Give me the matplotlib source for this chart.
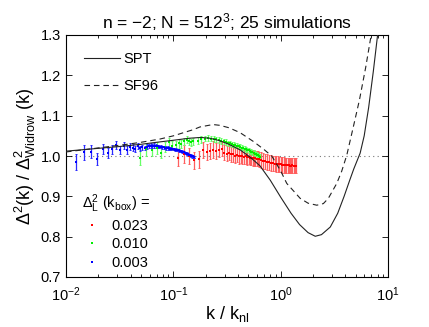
import matplotlib
matplotlib.use("Agg")
import matplotlib.pyplot as plt
from matplotlib.ticker import FixedLocator, FormatStrFormatter

plt.rcParams['font.family'] = ['Liberation Sans', 'DejaVu Sans']
plt.rcParams['mathtext.fontset'] = 'custom'
plt.rcParams['mathtext.rm'] = 'Liberation Sans'
plt.rcParams['mathtext.it'] = 'Liberation Sans:italic'
plt.rcParams['mathtext.bf'] = 'Liberation Sans:bold'
plt.rcParams['mathtext.default'] = 'rm'

# theory curves
spt_k = [0.01, 0.02, 0.03, 0.05, 0.07, 0.1, 0.14, 0.18, 0.22, 0.27, 0.33, 0.42, 0.52, 0.64,
         0.8, 1.0, 1.25, 1.5, 1.8, 2.1, 2.4, 2.9, 3.4, 3.9, 4.4, 4.8, 5.5, 6.0, 6.6, 7.3, 8.0, 8.5]
spt_v = [1.012, 1.019, 1.023, 1.029, 1.034, 1.039, 1.044, 1.046, 1.044, 1.038, 1.029, 1.015,
         0.997, 0.976, 0.940, 0.898, 0.858, 0.830, 0.810, 0.801, 0.805, 0.824, 0.858, 0.900,
         0.940, 0.968, 1.007, 1.050, 1.120, 1.210, 1.300, 1.370]

sf_k = [0.01, 0.02, 0.037, 0.05, 0.075, 0.1, 0.152, 0.177, 0.234, 0.272, 0.33, 0.418, 0.557,
        0.7, 0.826, 1.0, 1.14, 1.52, 1.8, 2.17, 2.5, 2.78, 3.33, 3.7, 4.13, 4.76, 5.42, 6.2,
        6.97, 7.5]
sf_v = [1.010, 1.020, 1.029, 1.034, 1.042, 1.050, 1.065, 1.072, 1.078, 1.076, 1.070, 1.058,
        1.036, 1.016, 1.000, 0.963, 0.932, 0.895, 0.883, 0.878, 0.882, 0.895, 0.932, 0.962,
        1.002, 1.073, 1.139, 1.220, 1.300, 1.360]

# simulations, Delta_L^2(k_box) = 0.023
red_k = [0.110, 0.126, 0.141, 0.157, 0.173, 0.188, 0.204, 0.220, 0.235, 0.251, 0.267, 0.283,
         0.298, 0.314, 0.330, 0.345, 0.361, 0.377, 0.392, 0.408, 0.424, 0.440, 0.455, 0.471,
         0.487, 0.502, 0.518, 0.534, 0.549, 0.565, 0.581, 0.596, 0.612, 0.628,
         0.659, 0.690, 0.722, 0.753, 0.785, 0.816, 0.848, 0.879, 0.910, 0.942, 0.973, 1.005,
         1.036, 1.068, 1.099, 1.130, 1.162, 1.193, 1.225, 1.256, 1.288, 1.319, 1.350, 1.382]
red_v = [0.996, 1.005, 1.000, 0.990, 0.992, 1.015, 1.010, 1.013, 1.016, 1.012, 1.016, 1.018,
         1.008, 1.006, 1.008, 1.004, 1.005, 1.001, 1.003, 1.000, 1.001, 0.999, 0.998, 0.999,
         0.997, 0.998, 0.996, 0.996, 0.995, 0.995, 0.994, 0.993, 0.993, 0.992,
         0.990, 0.988, 0.987, 0.985, 0.984, 0.983, 0.982, 0.981, 0.980, 0.980, 0.979, 0.979,
         0.978, 0.978, 0.977, 0.977, 0.977, 0.977, 0.976, 0.976, 0.977, 0.976, 0.976, 0.976]
red_e = [0.022, 0.022, 0.021, 0.021, 0.021, 0.020, 0.020, 0.020, 0.020, 0.020, 0.019, 0.019,
         0.019, 0.019, 0.019, 0.019, 0.019, 0.019, 0.019, 0.019, 0.019, 0.019, 0.019, 0.019,
         0.019, 0.019, 0.019, 0.019, 0.019, 0.019, 0.019, 0.019, 0.019, 0.019,
         0.019, 0.019, 0.019, 0.019, 0.019, 0.019, 0.019, 0.019, 0.019, 0.019, 0.019, 0.019,
         0.019, 0.019, 0.019, 0.019, 0.019, 0.019, 0.019, 0.019, 0.019, 0.019, 0.019, 0.019]

# Delta_L^2(k_box) = 0.010
green_k = [0.049, 0.056, 0.063, 0.070, 0.077, 0.084, 0.091, 0.098, 0.105, 0.112, 0.119, 0.126,
           0.133, 0.140, 0.147,
           0.154, 0.168, 0.182, 0.196, 0.210, 0.224, 0.238, 0.252, 0.266, 0.280, 0.294, 0.308,
           0.322, 0.336, 0.350, 0.364, 0.378, 0.392, 0.406, 0.420, 0.434, 0.448, 0.462, 0.476,
           0.490, 0.504, 0.518, 0.532, 0.546, 0.560, 0.574, 0.588, 0.602, 0.616, 0.630, 0.644]
green_v = [0.996, 1.017, 1.015, 1.020, 1.007, 1.022, 1.034, 1.026, 1.028, 1.031, 1.030, 1.036,
           1.040, 1.036, 1.034,
           1.036, 1.038, 1.041, 1.043, 1.044, 1.043, 1.042, 1.041, 1.039, 1.037, 1.036, 1.034,
           1.032, 1.031, 1.029, 1.028, 1.027, 1.025, 1.024, 1.023, 1.021, 1.020, 1.018, 1.017,
           1.015, 1.014, 1.012, 1.011, 1.009, 1.008, 1.006, 1.005, 1.003, 1.002, 1.000, 0.998]
green_e = [0.018, 0.016, 0.015, 0.014, 0.013, 0.012, 0.011, 0.011, 0.010, 0.010, 0.009, 0.009,
           0.009, 0.008, 0.008,
           0.008, 0.008, 0.008, 0.007, 0.007, 0.007, 0.007, 0.007, 0.007, 0.007, 0.007, 0.007,
           0.006, 0.006, 0.006, 0.006, 0.006, 0.006, 0.006, 0.006, 0.006, 0.006, 0.006, 0.006,
           0.006, 0.006, 0.006, 0.006, 0.006, 0.006, 0.006, 0.006, 0.006, 0.006, 0.006, 0.006]

# Delta_L^2(k_box) = 0.003
blue_k = [0.0123, 0.0147, 0.0172, 0.0196, 0.0221, 0.0246, 0.0270, 0.0295, 0.0320, 0.0344,
          0.0369, 0.0393, 0.0418, 0.0443, 0.0467, 0.0492, 0.0516, 0.0541, 0.0565, 0.0590,
          0.0615, 0.0639, 0.0664, 0.0688, 0.0713, 0.0738, 0.0762, 0.0787, 0.0811, 0.0836,
          0.0861, 0.0885, 0.0910, 0.0934, 0.0959, 0.0984, 0.1008, 0.1033, 0.1057, 0.1082,
          0.1107, 0.1131, 0.1156, 0.1180, 0.1205, 0.1230, 0.1254, 0.1279, 0.1303, 0.1328,
          0.1352, 0.1377, 0.1402, 0.1426, 0.1451, 0.1476, 0.1500, 0.1525, 0.1549, 0.1574]
blue_v = [0.986, 1.009, 1.011, 0.993, 1.017, 1.007, 1.017, 1.027, 1.016, 1.026,
          1.015, 1.023, 1.021, 1.018, 1.024, 1.019, 1.022, 1.020, 1.023, 1.025,
          1.026, 1.025, 1.026, 1.024, 1.024, 1.023, 1.023, 1.022, 1.022, 1.021,
          1.020, 1.020, 1.019, 1.018, 1.018, 1.017, 1.017, 1.016, 1.016, 1.015,
          1.015, 1.014, 1.013, 1.012, 1.011, 1.010, 1.009, 1.008, 1.007, 1.006,
          1.005, 1.004, 1.003, 1.002, 1.001, 1.000, 0.999, 0.999, 0.998, 0.997]
blue_e = [0.020, 0.019, 0.017, 0.015, 0.013, 0.012, 0.011, 0.010, 0.010, 0.009,
          0.009, 0.008, 0.008, 0.007, 0.007, 0.007, 0.006, 0.006, 0.006, 0.005,
          0.005, 0.005, 0.005, 0.005, 0.004, 0.004, 0.004, 0.004, 0.004, 0.004,
          0.004, 0.004, 0.004, 0.004, 0.004, 0.003, 0.003, 0.003, 0.003, 0.003,
          0.003, 0.003, 0.003, 0.003, 0.003, 0.003, 0.003, 0.003, 0.003, 0.003,
          0.003, 0.003, 0.003, 0.003, 0.003, 0.003, 0.003, 0.003, 0.003, 0.003]

fig = plt.figure(figsize=(4.29, 3.27), dpi=100)
ax = fig.add_axes([66 / 429, 1 - 277 / 327, 322 / 429, 242 / 327])

ax.axhline(1.0, color='#777777', ls=(0, (1, 3)), lw=0.8, zorder=1)

sims = [(red_k, red_v, red_e, '#ff0000', '#ff5e5e', '0.023'),
        (green_k, green_v, green_e, '#00ee00', '#66ff66', '0.010'),
        (blue_k, blue_v, blue_e, '#0000ff', '#2a2aff', '0.003')]
pts = []
for k, v, e, c, ec, lab in sims:
    ax.errorbar(k, v, yerr=e, fmt='none', ecolor=ec, elinewidth=0.9, capsize=1,
                capthick=0.7, zorder=2)
    p, = ax.plot(k, v, 's', ms=1.9, mew=0, color=c, label=lab, zorder=3)
    pts.append(p)

l1, = ax.plot(spt_k, spt_v, '-', color='#222222', lw=0.8, label='SPT', zorder=4)
l2, = ax.plot(sf_k, sf_v, '--', color='#222222', lw=0.8, dashes=(5, 3.5), label='SF96', zorder=4)

ax.set_xscale('log')
ax.set_xlim(0.01, 10)
ax.set_ylim(0.7, 1.3)
ax.yaxis.set_major_locator(FixedLocator([0.7, 0.8, 0.9, 1.0, 1.1, 1.2, 1.3]))
ax.yaxis.set_major_formatter(FormatStrFormatter('%.1f'))
ax.tick_params(which='both', direction='in', top=True, right=True, labelsize=10.5,
               width=0.6)
ax.tick_params(which='major', length=4)
ax.tick_params(axis='x', which='major', pad=6)
ax.tick_params(which='minor', length=2)
for s in ax.spines.values():
    s.set_linewidth(0.8)

ax.set_title('n = \u22122; N = 512$^3$; 25 simulations', fontsize=12.5, pad=5)
ax.set_xlabel('k / k$_{\\rm nl}$', fontsize=13, labelpad=0)
ax.set_ylabel('$\\Delta^2$(k) / $\\Delta^2_{\\rm Widrow}$ (k)', fontsize=13, labelpad=2)

leg1 = ax.legend(handles=[l1, l2], loc='upper left', bbox_to_anchor=(0.056, 0.93),
                 frameon=False, fontsize=10.5, handlelength=2.5, handletextpad=0.2,
                 labelspacing=0.9, borderpad=0, borderaxespad=0)
ax.add_artist(leg1)
ax.legend(handles=pts, loc='lower left', bbox_to_anchor=(0.05, 0.03), frameon=False,
          fontsize=10.5, title='$\\Delta^2_{\\rm L}$ (k$_{\\rm box}$) =', title_fontsize=10.5,
          alignment='left', handlelength=1.3, handletextpad=0.7, labelspacing=0.3,
          markerscale=0.8, borderpad=0, borderaxespad=0)

fig.savefig('out.png', dpi=100)
